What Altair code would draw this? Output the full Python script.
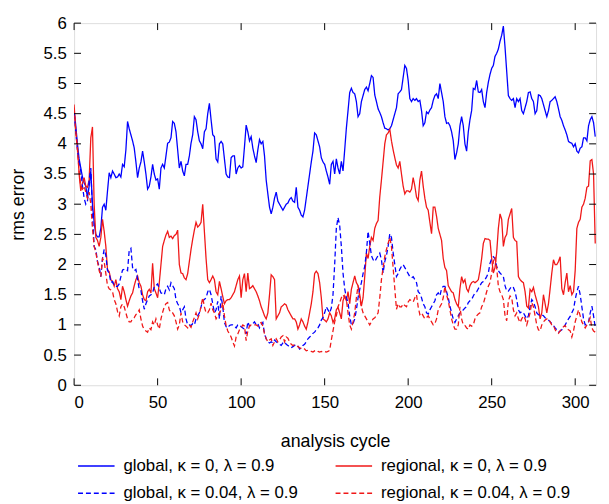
import altair as alt
import pandas as pd

series_names = [
    "global, κ = 0, λ = 0.9",
    "regional, κ = 0, λ = 0.9",
    "global, κ = 0.04, λ = 0.9",
    "regional, κ = 0.04, λ = 0.9",
]
series_colors = ["#0000ff", "#f01818", "#0000ff", "#f01818"]
series_dashes = [[1, 0], [1, 0], [5, 3], [5, 3]]

# rms error per analysis cycle (cycle 0 .. 312)
global_k0 = [
    4.55, 4.3, 4.0, 3.75, 3.6, 3.45, 3.35, 3.3, 3.1, 3.3,
    3.55, 3.0, 2.7, 2.5, 2.46, 2.46, 2.6, 2.95, 3.0, 2.9,
    3.22, 3.52, 3.44, 3.55, 3.5, 3.44, 3.45, 3.5, 3.45, 3.66,
    3.62, 3.9, 4.37, 4.25, 4.15, 4.05, 3.93, 3.7, 3.44, 3.6,
    3.7, 3.88, 3.7, 3.5, 3.25, 3.3, 3.45, 3.66, 3.5, 3.4,
    3.42, 3.25, 3.6, 3.66, 3.6, 3.8, 4.01, 4.03, 4.1, 4.37,
    4.34, 4.2, 3.9, 3.6, 3.71, 3.55, 3.47, 3.66, 3.66, 3.8,
    4.01, 4.15, 4.45, 4.4, 4.2, 4.05, 4.0, 3.92, 4.2, 4.25,
    4.5, 4.67, 4.4, 4.15, 4.12, 3.75, 3.7, 4.0, 4.04, 4.0,
    3.75, 3.5, 3.45, 3.44, 3.77, 3.8, 3.8, 3.5, 3.6, 3.64,
    3.6, 3.62, 3.95, 4.31, 4.2, 4.05, 4.12, 3.93, 3.8, 3.69,
    3.9, 4.07, 4.0, 4.04, 3.8, 3.4, 3.17, 2.95, 2.84, 2.95,
    3.1, 3.2, 3.05, 3.0, 2.95, 2.9, 2.95, 3.0, 3.02, 3.08,
    3.11, 3.05, 3.03, 3.28, 2.95, 2.9, 2.82, 2.79, 2.9, 3.1,
    3.3, 3.5, 3.7, 3.88, 4.18, 4.15, 4.05, 3.95, 3.77, 3.7,
    3.66, 3.55, 3.45, 3.33, 3.66, 3.71, 3.5, 3.75, 3.6, 3.5,
    3.71, 3.55, 3.9, 4.26, 4.55, 4.85, 4.92, 4.85, 4.83, 4.7,
    4.45, 4.5, 4.7, 4.8, 4.9, 4.94, 4.88, 5.0, 5.13, 5.1,
    4.81, 4.7, 4.58, 4.52, 4.45, 4.35, 4.26, 4.25, 4.23, 4.25,
    4.3, 4.4, 4.5, 4.6, 4.83, 4.86, 4.9, 5.1, 5.3, 5.25,
    5.05, 4.75, 4.7, 4.75, 4.72, 4.75, 4.7, 4.72, 4.55, 4.3,
    4.35, 4.53, 4.5, 4.56, 4.6, 4.72, 4.8, 4.83, 4.75, 5.0,
    4.85, 4.7, 4.45, 4.34, 4.35, 4.3, 4.2, 4.05, 3.74, 3.85,
    4.0, 4.3, 4.45, 4.3, 4.0, 3.88, 4.2, 4.4, 4.55, 4.92,
    4.9, 5.05, 4.86, 4.85, 4.9, 4.7, 4.6, 4.85, 5.02, 5.15,
    5.25, 5.3, 5.45, 5.5, 5.57, 5.7, 5.8, 5.95, 5.6, 5.2,
    4.8, 4.75, 4.72, 4.75, 4.6, 4.75, 4.7, 4.75, 4.55, 4.5,
    4.6, 4.7, 4.85, 4.86, 4.75, 4.7, 4.5, 4.55, 4.81, 4.8,
    4.75, 4.65, 4.55, 4.45, 4.55, 4.7, 4.72, 4.75, 4.78, 4.7,
    4.58, 4.45, 4.39, 4.3, 4.23, 4.15, 4.04, 4.02, 4.01, 3.95,
    4.0, 3.88, 3.85, 3.93, 3.95, 4.1, 4.1, 4.05, 4.3, 4.4,
    4.45, 4.35, 4.12,
]

regional_k0 = [
    4.65, 4.2, 3.95, 3.5, 3.22, 3.35, 3.44, 3.3, 3.28, 3.4,
    4.1, 4.28, 3.0, 2.45, 2.4, 2.3, 2.45, 2.75, 2.55, 2.3,
    1.92, 1.88, 1.75, 1.72, 1.64, 1.75, 1.6, 1.55, 1.42, 1.64,
    1.55, 1.42, 1.31, 1.4, 1.48, 1.53, 1.65, 1.75, 1.81, 1.7,
    1.64, 1.5, 1.42, 1.4, 1.55, 1.59, 1.53, 2.02, 1.6, 1.53,
    1.45, 1.7, 2.0, 2.3, 2.4, 2.49, 2.55, 2.45, 2.47, 2.43,
    2.48, 2.5, 2.57, 2.0, 1.86, 1.85, 1.78, 1.75, 1.85, 2.05,
    2.25, 2.42, 2.57, 2.7, 2.62, 2.65, 2.7, 3.0, 2.55, 2.1,
    1.75, 1.7, 1.75, 1.81, 1.75, 1.55, 1.5, 1.72, 1.6, 1.47,
    1.35, 1.4, 1.42, 1.42, 1.45, 1.5, 1.55, 1.65, 1.75, 1.81,
    1.45, 1.75, 1.85, 1.55, 1.86, 1.6, 1.62, 1.65, 1.6, 1.55,
    1.48, 1.4, 1.3, 1.23, 1.15, 1.1, 1.2, 1.5, 1.83, 1.8,
    1.75, 1.1, 1.15, 1.2, 1.3, 1.32, 1.35, 1.33, 1.25, 1.2,
    1.15, 1.1, 1.1, 1.05, 0.93, 1.0, 1.1, 1.05, 0.98, 0.93,
    1.05, 1.2, 1.35, 1.55, 1.85, 1.89, 1.85, 1.7, 1.45, 1.1,
    1.08, 1.05, 1.1, 1.2, 1.15, 1.04, 1.1, 1.25, 1.29, 1.2,
    1.1, 1.4, 1.48, 1.4, 1.55, 1.35, 1.59, 1.7, 1.81, 1.7,
    1.65, 1.5, 1.31, 1.45, 1.8, 2.19, 2.1, 2.3, 2.45, 2.4,
    2.6, 2.68, 2.73, 3.12, 3.4, 3.7, 4.0, 4.15, 4.18, 4.24,
    4.05, 3.9, 3.77, 3.65, 3.6, 3.71, 3.5, 3.3, 3.17, 3.22,
    3.22, 3.2, 3.25, 3.44, 3.3, 3.12, 3.06, 3.4, 3.55, 3.3,
    3.1, 2.95, 2.9, 2.7, 2.51, 2.95, 2.95, 2.8, 2.6, 2.5,
    2.4, 2.1, 1.95, 1.9, 1.65, 1.6, 1.55, 1.53, 1.42, 1.35,
    1.3, 1.6, 1.8, 1.7, 1.75, 1.6, 1.55, 1.65, 1.7, 1.72,
    1.7, 1.72, 1.75, 1.9, 2.1, 2.35, 2.43, 2.42, 2.42, 2.4,
    2.1, 1.86, 1.95, 2.2, 2.6, 2.84, 2.75, 2.3, 2.45, 2.5,
    2.75, 2.84, 2.93, 2.45, 2.4, 2.38, 1.8, 1.75, 1.72, 1.7,
    1.55, 1.31, 1.28, 1.59, 1.55, 1.62, 1.5, 1.4, 1.3, 1.1,
    1.2, 1.5, 1.35, 1.2, 1.35, 1.6, 1.86, 2.08, 2.0, 2.0,
    2.05, 2.13, 1.6, 1.5, 1.7, 1.86, 1.55, 1.65, 1.5, 1.55,
    1.9, 2.6, 2.7, 2.75, 2.95, 3.0, 3.1, 3.28, 3.3, 3.72,
    3.74, 3.5, 2.35,
]

global_k004 = [
    4.5, 4.2, 3.9, 3.7, 3.55, 3.3, 3.1, 3.0, 3.05, 3.4,
    3.6, 2.85, 2.3, 2.25, 2.05, 1.97, 1.8, 2.1, 2.25, 2.15,
    1.9, 1.86, 1.7, 1.72, 1.65, 1.64, 1.64, 1.68, 1.8, 1.91,
    1.92, 1.93, 1.9, 2.24, 2.27, 1.95, 1.9, 1.92, 1.75, 1.59,
    1.57, 1.4, 1.26, 1.35, 1.42, 1.48, 1.5, 1.53, 1.64, 1.65,
    1.68, 1.6, 1.53, 1.52, 1.5, 1.6, 1.64, 1.58, 1.7, 1.65,
    1.6, 1.42, 1.35, 1.31, 1.2, 1.25, 1.3, 1.1, 1.0, 1.0,
    0.99, 1.02, 1.0, 1.1, 1.15, 1.2, 1.3, 1.4, 1.42, 1.45,
    1.55, 1.59, 1.5, 1.35, 1.2, 1.25, 1.39, 1.1, 1.48, 1.3,
    1.04, 0.97, 0.95, 0.99, 1.0, 1.0, 0.98, 0.95, 1.0, 1.0,
    0.97, 0.95, 0.93, 0.85, 1.05, 0.98, 1.0, 1.02, 1.05, 1.0,
    1.02, 0.95, 1.0, 1.04, 0.85, 0.77, 0.72, 0.7, 0.72, 0.7,
    0.75, 0.72, 0.7, 0.68, 0.66, 0.7, 0.72, 0.68, 0.66, 0.64,
    0.62, 0.64, 0.66, 0.67, 0.65, 0.6, 0.62, 0.66, 0.68, 0.72,
    0.77, 0.8, 0.82, 0.86, 0.88, 0.92, 0.95, 1.0, 1.08, 1.12,
    1.2, 1.3, 1.25, 1.2, 1.28, 1.5, 2.0, 2.6, 2.78, 2.65,
    2.3, 1.86, 1.6, 1.45, 1.37, 1.15, 1.0, 1.02, 1.1, 1.25,
    1.45, 1.59, 1.7, 1.85, 1.97, 2.2, 2.55, 2.35, 2.15, 2.08,
    2.05, 2.1, 2.15, 2.19, 2.08, 1.86, 2.05, 2.15, 2.3, 2.51,
    2.45, 2.2, 2.0, 1.8, 1.85, 1.92, 1.97, 2.0, 1.95, 1.9,
    1.85, 1.8, 1.78, 1.8, 1.75, 1.7, 1.55, 1.52, 1.45, 1.35,
    1.3, 1.2, 1.18, 1.25, 1.3, 1.35, 1.4, 1.5, 1.53, 1.48,
    1.6, 1.64, 1.64, 1.55, 1.45, 1.31, 1.2, 1.1, 1.04, 1.1,
    1.15, 1.2, 1.22, 1.25, 1.28, 1.3, 1.37, 1.4, 1.42, 1.48,
    1.53, 1.55, 1.6, 1.65, 1.7, 1.72, 1.75, 1.8, 1.86, 2.02,
    2.1, 2.13, 2.1, 1.97, 1.9, 1.86, 1.83, 1.8, 1.65, 1.56,
    1.56, 1.6, 1.64, 1.62, 1.55, 1.42, 1.25, 1.2, 1.22, 1.2,
    1.15, 1.1, 1.15, 1.3, 1.42, 1.38, 1.3, 1.2, 1.17, 1.16,
    1.17, 1.15, 1.12, 1.1, 1.08, 1.05, 1.02, 0.99, 0.95, 0.92,
    0.88, 0.9, 0.92, 0.96, 1.0, 1.05, 1.1, 1.14, 1.2, 1.26,
    1.42, 1.55, 1.64, 1.5, 1.3, 1.1, 1.0, 1.02, 1.05, 1.2,
    1.31, 1.15, 0.96,
]

regional_k004 = [
    4.6, 4.2, 3.9, 3.55, 3.3, 3.25, 3.3, 3.2, 3.1, 3.2,
    3.0, 2.6, 2.3, 2.2, 2.05, 1.9, 1.8, 2.1, 2.05, 1.85,
    1.65, 1.6, 1.58, 1.55, 1.42, 1.35, 1.22, 1.15, 1.3, 1.35,
    1.3, 1.2, 1.1, 1.05, 1.05, 1.1, 1.12, 1.17, 1.2, 1.25,
    1.1, 0.98, 0.92, 0.9, 0.88, 0.95, 0.92, 1.05, 1.0, 1.1,
    1.0, 0.93, 1.1, 1.21, 1.3, 1.35, 1.37, 1.25, 1.2, 1.2,
    1.15, 1.05, 0.93, 1.0, 1.2, 1.05, 1.0, 0.98, 0.95, 1.0,
    0.96, 1.05, 1.12, 1.2, 1.1, 1.18, 1.31, 1.45, 1.3, 1.2,
    1.2, 1.25, 1.36, 1.25, 1.2, 1.1, 1.15, 1.2, 1.25, 1.37,
    1.15, 0.99, 0.9, 0.85, 0.8, 0.72, 0.65, 0.8, 0.85, 0.92,
    0.95, 1.0, 0.98, 0.74, 0.9, 0.98, 1.0, 1.0, 1.0, 1.0,
    0.98, 1.02, 1.04, 0.98, 0.85, 0.77, 0.72, 0.75, 0.77, 0.66,
    0.72, 0.77, 0.72, 0.75, 0.8, 0.82, 0.72, 0.8, 0.78, 0.72,
    0.68, 0.66, 0.67, 0.66, 0.64, 0.62, 0.61, 0.62, 0.6, 0.57,
    0.58, 0.57, 0.56, 0.55, 0.57, 0.58, 0.56, 0.55, 0.56, 0.55,
    0.56, 0.55, 0.56, 0.58, 0.75, 0.9, 1.05, 1.15, 1.3, 1.37,
    1.45, 1.5, 1.45, 1.42, 1.2, 1.0, 0.93, 1.05, 1.2, 1.45,
    1.65, 1.45, 1.3, 1.2, 1.15, 1.1, 1.05, 1.0, 1.05, 1.1,
    1.12, 1.15, 1.2, 1.45, 1.75, 1.95, 2.13, 2.25, 2.35, 2.45,
    2.3, 1.95, 1.6, 1.26, 1.35, 1.3, 1.3, 1.35, 1.32, 1.3,
    1.38, 1.42, 1.4, 1.38, 1.45, 1.5, 1.3, 1.17, 1.2, 1.15,
    1.1, 1.12, 1.15, 1.1, 1.05, 1.0, 1.02, 1.1, 1.25, 1.3,
    1.35, 1.45, 1.64, 1.5, 1.4, 1.25, 1.1, 1.0, 0.93, 0.93,
    1.0, 1.3, 1.1, 1.0, 0.99, 0.95, 0.93, 1.0, 0.98, 1.0,
    1.1, 1.15, 1.18, 1.2, 1.3, 1.35, 1.45, 1.55, 1.64, 1.7,
    1.86, 2.05, 2.13, 1.95, 1.64, 1.55, 1.5, 1.42, 1.15, 1.07,
    1.4, 1.48, 1.45, 1.25, 1.15, 1.2, 1.1, 1.04, 1.1, 1.15,
    1.1, 1.0, 1.1, 1.2, 1.37, 1.3, 1.15, 1.0, 0.92, 0.9,
    1.0, 1.05, 1.08, 1.1, 1.1, 1.05, 1.0, 0.99, 0.92, 0.88,
    0.86, 0.9, 0.93, 0.97, 0.99, 0.93, 0.92, 0.9, 0.8, 0.9,
    1.05, 1.15, 1.25, 1.15, 1.05, 1.0, 0.95, 1.0, 1.05, 1.12,
    0.95, 0.9, 0.88,
]

x_ticks = [0, 50, 100, 150, 200, 250, 300]
y_ticks = [0, 0.5, 1, 1.5, 2, 2.5, 3, 3.5, 4, 4.5, 5, 5.5, 6]

W, H = 529, 367
TICK = 7
FONT = "Liberation Sans"

rows = []
for name, vals in zip(series_names, [global_k0, regional_k0, global_k004, regional_k004]):
    for cycle, v in enumerate(vals):
        rows.append({"series": name, "cycle": cycle, "rms": v})
df = pd.DataFrame(rows)

xs = alt.Scale(domain=[0, 312.5], nice=False, zero=False)
ys = alt.Scale(domain=[0, 6], nice=False)

x_axis = alt.Axis(values=x_ticks, title="analysis cycle", ticks=False, domain=False,
                  grid=False, labelFontSize=17, titleFontSize=18, labelPadding=10,
                  titlePadding=22, format="d", labelFont=FONT, titleFont=FONT,
                  labelColor="#000", titleColor="#000", titleFontWeight="normal")
y_axis = alt.Axis(values=y_ticks, title="rms error", ticks=False, domain=False,
                  grid=False, labelFontSize=17, titleFontSize=18, labelPadding=8,
                  titlePadding=16, format="~g", labelFont=FONT, titleFont=FONT,
                  labelColor="#000", titleColor="#000", titleFontWeight="normal")

lines = alt.Chart(df).mark_line(strokeWidth=1.3, clip=True).encode(
    x=alt.X("cycle:Q", scale=xs, axis=x_axis),
    y=alt.Y("rms:Q", scale=ys, axis=y_axis),
    color=alt.Color("series:N", title=None,
                    scale=alt.Scale(domain=series_names, range=series_colors),
                    legend=alt.Legend(orient="none", legendX=3, legendY=429, columns=2,
                                      direction="horizontal",
                                      symbolType="stroke", symbolSize=1369,
                                      symbolStrokeWidth=1.5, labelFontSize=17,
                                      labelFont=FONT, labelColor="#000",
                                      columnPadding=35, rowPadding=-3, labelOffset=8,
                                      padding=0, labelLimit=400)),
    strokeDash=alt.StrokeDash("series:N", title=None,
                              scale=alt.Scale(domain=series_names, range=series_dashes)),
    detail="series:N",
)

xt_df = pd.DataFrame({"cycle": x_ticks})
yt_df = pd.DataFrame({"rms": y_ticks})

x_enc = alt.X("cycle:Q", scale=xs, axis=x_axis)
y_enc = alt.Y("rms:Q", scale=ys, axis=y_axis)

tick_bottom = alt.Chart(xt_df).mark_rule(color="#000", strokeWidth=1).encode(
    x=x_enc, y=alt.value(H), y2=alt.value(H - TICK))
tick_top = alt.Chart(xt_df).mark_rule(color="#000", strokeWidth=1).encode(
    x=x_enc, y=alt.value(0), y2=alt.value(TICK))
tick_left = alt.Chart(yt_df).mark_rule(color="#000", strokeWidth=1).encode(
    y=y_enc, x=alt.value(0), x2=alt.value(TICK))
tick_right = alt.Chart(yt_df).mark_rule(color="#000", strokeWidth=1).encode(
    y=y_enc, x=alt.value(W), x2=alt.value(W - TICK))

chart = alt.layer(lines, tick_bottom, tick_top, tick_left, tick_right).properties(
    width=W, height=H,
    padding={"left": 67, "top": 12, "right": 5, "bottom": 117},
    autosize=alt.AutoSizeParams(type="none"),
).configure_view(stroke="#000", strokeWidth=1.3).configure(background="white")

chart.save("out.html", embed_options={"renderer": "svg", "actions": False})
